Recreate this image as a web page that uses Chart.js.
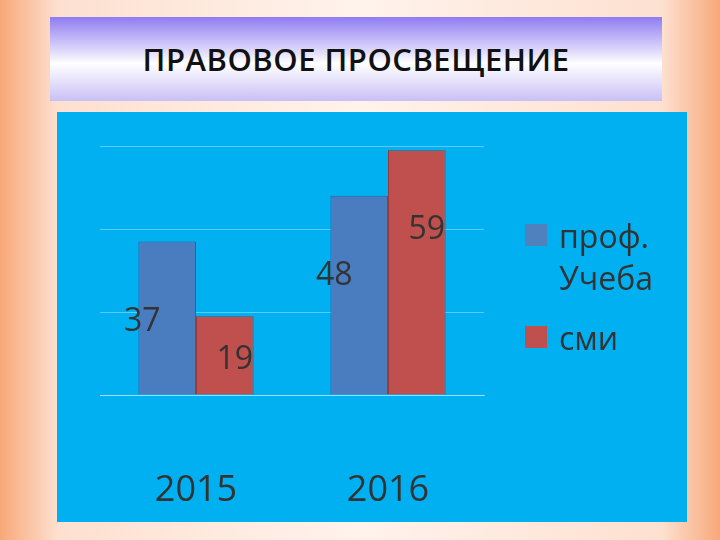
<!DOCTYPE html><html><head><meta charset="utf-8">
<script src="https://cdn.jsdelivr.net/npm/chart.js@4"></script>
<style>
body{margin:0;width:720px;height:540px;overflow:hidden;background:linear-gradient(90deg,#f8a878 0%,#fde0d0 8%,#fff3ec 50%,#fde0d0 92%,#f8a878 100%);font-family:"Open Sans","DejaVu Sans",sans-serif;position:relative}
#title{position:absolute;left:50px;top:17px;width:612px;height:84px;background:linear-gradient(180deg,#8f7cf2 0%,#e8e4fb 45%,#ffffff 55%,#c9bff6 100%);display:flex;align-items:center;justify-content:center;font-size:31px;font-weight:600;color:#111;letter-spacing:0.5px}
#box{position:absolute;left:57px;top:112px;width:630px;height:410px;background:#00b0f0}
#legend{position:absolute;left:525px;top:215px;font-size:32px;color:#333;line-height:42px}
.sw{display:inline-block;width:22px;height:22px;margin-right:12px;vertical-align:2px}
</style></head><body>
<div id="title">ПРАВОВОЕ ПРОСВЕЩЕНИЕ</div>
<div id="box"><canvas id="c" width="630" height="410"></canvas></div>
<div id="legend"><div><span class="sw" style="background:#4f81bd"></span>проф.</div><div style="padding-left:34px">Учеба</div><div style="margin-top:18px"><span class="sw" style="background:#c0504d"></span>сми</div></div>
<script>
const categories=["2015","2016"];
const seriesNames=["проф. Учеба","сми"];
const profValues=[37,48];
const smiValues=[19,59];
const labelPlugin={id:'lbl',afterDatasetsDraw(chart){const ctx=chart.ctx;ctx.save();ctx.font='32px "Open Sans",sans-serif';ctx.fillStyle='#333';ctx.textAlign='center';ctx.textBaseline='middle';
 chart.data.datasets.forEach((ds,di)=>{chart.getDatasetMeta(di).data.forEach((b,i)=>{const v=ds.data[i];const y=Math.min(b.y+80,b.base-35);ctx.fillText(v,b.x+(di===0?-25:10),y);});});ctx.restore();}};
new Chart(document.getElementById('c'),{type:'bar',data:{labels:categories,datasets:[
 {label:seriesNames[0],data:profValues,backgroundColor:'#4a7cc0',borderColor:'#33609e',borderWidth:1},
 {label:seriesNames[1],data:smiValues,backgroundColor:'#c0504d',borderColor:'#953a38',borderWidth:1}]},
options:{responsive:false,animation:false,layout:{padding:{left:43,right:203,top:34}},
 categoryPercentage:0.6,barPercentage:1,
 plugins:{legend:{display:false},tooltip:{enabled:false}},
 scales:{y:{min:0,max:60,ticks:{display:false,stepSize:20},grid:{color:'rgba(255,255,255,0.35)',drawTicks:false},border:{display:false}},
 x:{afterFit:s=>{s.height=127;},grid:{display:false},border:{color:'rgba(255,255,255,0.4)'},ticks:{font:{size:36,family:'"Open Sans",sans-serif'},color:'#333',padding:66}}}},
plugins:[labelPlugin]});
</script></body></html>
